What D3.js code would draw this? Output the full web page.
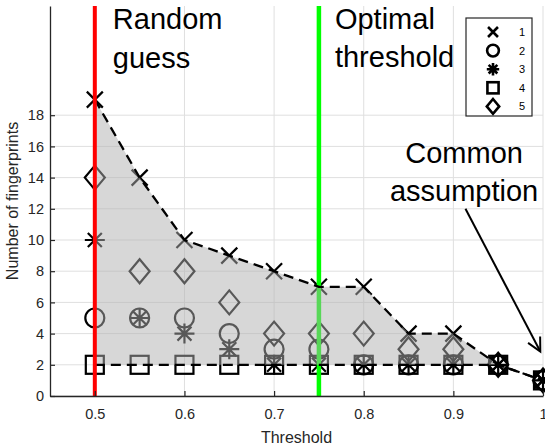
<!DOCTYPE html>
<html>
<head>
<meta charset="utf-8">
<script src="https://cdn.jsdelivr.net/npm/d3@7"></script>
<style>
  body { margin: 0; background: #fff; }
  svg { display: block; font-family: "Liberation Sans", Arial, Helvetica, sans-serif; }
</style>
</head>
<body>
<svg id="chart" width="545" height="446"></svg>
<script>
// thresholds on x axis
const thresholds = [0.5, 0.55, 0.6, 0.65, 0.7, 0.75, 0.8, 0.85, 0.9, 0.95, 1.0];
// number of fingerprints, one array per series
const series1 = [19, 14, 10, 9, 8, 7, 7, 4, 4, 2, 1];
const series2 = [5, 5, 5, 4, 3, 3, 2, 2, 2, 2, 1];
const series3 = [10, 5, 4, 3, 2, 2, 2, 2, 2, 2, 1];
const series4 = [2, 2, 2, 2, 2, 2, 2, 2, 2, 2, 1];
const series5 = [14, 8, 8, 6, 4, 4, 4, 3, 3, 2, 1];
const seriesNames = ["1", "2", "3", "4", "5"];
const seriesMarkers = ["x", "o", "*", "s", "d"];

const xTicks = [0.5, 0.6, 0.7, 0.8, 0.9, 1.0];
const xTickLabels = ["0.5", "0.6", "0.7", "0.8", "0.9", "1"];
const yTicks = [0, 2, 4, 6, 8, 10, 12, 14, 16, 18];

const randomGuess = 0.5;
const optimalThreshold = 0.75;

var svg = d3.select("#chart");
var pLeft = 50, pRight = 543, pTop = 6, pBottom = 396;

var x = d3.scaleLinear().domain([0.45, 1.0]).range([pLeft, pRight]);
var y = d3.scaleLinear().domain([0, 25]).range([pBottom, pTop]);

/* grid */
var grid = svg.append("g").attr("stroke", "#dfdfdf").attr("stroke-width", 1);
grid.selectAll("line.v").data(xTicks).enter().append("line")
    .attr("x1", d => x(d)).attr("x2", d => x(d))
    .attr("y1", pTop).attr("y2", pBottom);
grid.selectAll("line.h").data(yTicks).enter().append("line")
    .attr("x1", pLeft).attr("x2", pRight)
    .attr("y1", d => y(d)).attr("y2", d => y(d));

/* markers drawn with MATLAB-like shapes */
function marker(g, type, cx, cy, k, color, sw) {
    var p = g.append("g").attr("transform", "translate(" + cx + "," + cy + ")")
        .attr("fill", "none").attr("stroke", color).attr("stroke-width", sw);
    if (type == "x") {
        var h = 8 * k;
        p.append("path").attr("d", `M${-h},${-h}L${h},${h}M${-h},${h}L${h},${-h}`);
    } else if (type == "o") {
        p.append("circle").attr("r", 9.5 * k);
    } else if (type == "*") {
        var a = 10 * k, b = 7 * k;
        p.append("path").attr("d", `M${-a},0L${a},0M0,${-a}L0,${a}M${-b},${-b}L${b},${b}M${-b},${b}L${b},${-b}`);
    } else if (type == "s") {
        var s = 9 * k;
        p.append("rect").attr("x", -s).attr("y", -s).attr("width", 2 * s).attr("height", 2 * s);
    } else if (type == "d") {
        var w = 10 * k, hh = 12 * k;
        p.append("path").attr("d", `M0,${-hh}L${w},0L0,${hh}L${-w},0Z`);
    }
}

var allSeries = [series1, series2, series3, series4, series5];
var marks = svg.append("g");
allSeries.forEach(function(vals, i) {
    vals.forEach(function(v, j) {
        marker(marks, seriesMarkers[i], x(thresholds[j]), y(v), 1, "#000", 2.2);
    });
});

/* optimal threshold line (under the shaded band) */
svg.append("line")
    .attr("x1", x(optimalThreshold)).attr("x2", x(optimalThreshold))
    .attr("y1", pTop).attr("y2", pBottom)
    .attr("stroke", "#00ff00").attr("stroke-width", 4.5);

/* shaded band between max and min */
var band = d3.area()
    .x((d, i) => x(thresholds[i]))
    .y0((d, i) => y(series4[i]))
    .y1(d => y(d));
svg.append("path").datum(series1)
    .attr("d", band)
    .attr("fill", "rgb(175,175,175)").attr("fill-opacity", 0.5);

/* dashed envelope lines */
var line = d3.line().x((d, i) => x(thresholds[i])).y(d => y(d));
[series1, series4].forEach(function(vals) {
    svg.append("path").datum(vals)
        .attr("d", line)
        .attr("fill", "none").attr("stroke", "#000")
        .attr("stroke-width", 2.3).attr("stroke-dasharray", "10,6");
});

/* random guess line */
svg.append("line")
    .attr("x1", x(randomGuess)).attr("x2", x(randomGuess))
    .attr("y1", pTop).attr("y2", pBottom)
    .attr("stroke", "#ff0000").attr("stroke-width", 4);

/* axes */
var xAxis = d3.axisBottom(x).tickValues(xTicks)
    .tickFormat((d, i) => xTickLabels[i])
    .tickSizeInner(-5).tickSizeOuter(0).tickPadding(13);
var gx = svg.append("g").attr("transform", "translate(0," + pBottom + ")").call(xAxis);

var yAxis = d3.axisLeft(y).tickValues(yTicks)
    .tickSizeInner(-5).tickSizeOuter(0).tickPadding(6);
var gy = svg.append("g").attr("transform", "translate(" + pLeft + ",0)").call(yAxis);

[gx, gy].forEach(function(g) {
    g.select(".domain").attr("stroke", "#262626").attr("stroke-width", 1.3);
    g.selectAll(".tick line").attr("stroke", "#262626").attr("stroke-width", 1.2);
    g.selectAll(".tick text").attr("fill", "#262626")
        .style("font-size", "14.5px").style("font-family", "Liberation Sans, Arial, sans-serif");
});

svg.append("text")
    .attr("x", (pLeft + pRight) / 2).attr("y", 442.5)
    .attr("text-anchor", "middle").attr("fill", "#262626")
    .style("font-size", "16px").text("Threshold");

svg.append("text")
    .attr("transform", "translate(18," + (pTop + pBottom) / 2 + ") rotate(-90)")
    .attr("text-anchor", "middle").attr("fill", "#262626")
    .style("font-size", "16px").text("Number of fingerprints");

/* annotations */
function label(lines, px, py, anchor) {
    var t = svg.append("text").attr("text-anchor", anchor).attr("fill", "#000")
        .style("font-size", "29px");
    lines.forEach(function(s, i) {
        t.append("tspan").attr("x", px).attr("y", py + i * 38.5).text(s);
    });
}
label(["Random", "guess"], x(randomGuess) + 18, pTop + 23, "start");
label(["Optimal", "threshold"], x(optimalThreshold) + 16, pTop + 22.5, "start");
label(["Common", "assumption"], x(0.912), y(14.94), "middle");

/* arrow to common assumption */
var ax1 = x(0.9135), ay1 = y(12.0), ax2 = x(0.997), ay2 = y(2.85);
var ang = Math.atan2(ay2 - ay1, ax2 - ax1);
var hl = 15, ha = 27 * Math.PI / 180;
var arrow = svg.append("g").attr("stroke", "#000").attr("stroke-width", 2).attr("fill", "none");
arrow.append("line").attr("x1", ax1).attr("y1", ay1).attr("x2", ax2).attr("y2", ay2);
arrow.append("path").attr("d",
    "M" + (ax2 - hl * Math.cos(ang - ha)) + "," + (ay2 - hl * Math.sin(ang - ha)) +
    "L" + ax2 + "," + ay2 +
    "L" + (ax2 - hl * Math.cos(ang + ha)) + "," + (ay2 - hl * Math.sin(ang + ha)));

/* legend */
var lg = svg.append("g");
lg.append("rect").attr("x", 466).attr("y", 18).attr("width", 66).attr("height", 98)
    .attr("fill", "#fff").attr("stroke", "#262626").attr("stroke-width", 1.2);
seriesNames.forEach(function(name, i) {
    var ly = 32 + i * 18.6;
    marker(lg, seriesMarkers[i], 493, ly, 0.62, "#000", 2.6);
    lg.append("text").attr("x", 519).attr("y", ly).attr("dy", "0.36em")
        .attr("fill", "#000").style("font-size", "11px").text(name);
});
</script>
</body>
</html>
